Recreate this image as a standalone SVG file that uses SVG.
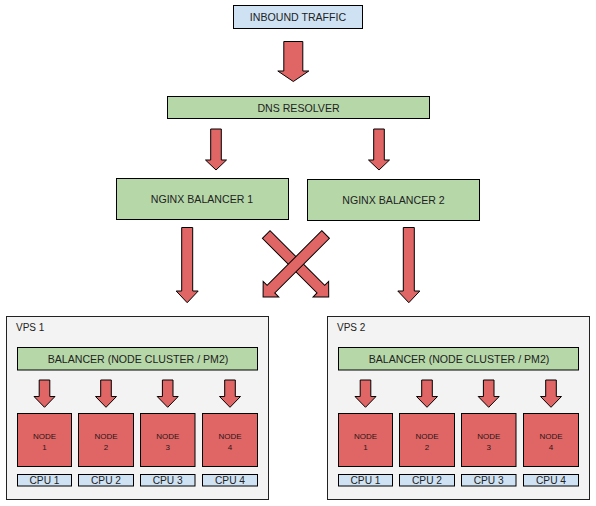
<svg xmlns="http://www.w3.org/2000/svg" width="596" height="506" viewBox="0 0 596 506">
<style>
  .box { stroke: #000; stroke-width: 1; }
  .blue { fill: #cfe2f3; }
  .green { fill: #b6d7a8; }
  .red { fill: #e06666; }
  .gray { fill: #f3f3f3; stroke: #222; stroke-width: 1; }
  .arrow { fill: #e06666; stroke: #000; stroke-width: 1; stroke-linejoin: miter; }
  text { font-family: "Liberation Sans", Arial, sans-serif; fill: #222; }
  .t { font-size: 10.6px; text-anchor: middle; }
  .lbl { font-size: 10px; }
  .n { font-size: 8px; text-anchor: middle; fill: #2a1515; }
  .cpu { font-size: 10.2px; text-anchor: middle; }
</style>
<rect width="596" height="506" fill="#ffffff"/>

<g id="inbound">
  <rect class="box blue" x="233.5" y="5.5" width="129" height="23"/>
  <text class="t" x="298" y="21">INBOUND TRAFFIC</text>
</g>
<g id="dns">
  <rect class="box green" x="167.5" y="96.5" width="262" height="22"/>
  <text class="t" x="298.5" y="111.5">DNS RESOLVER</text>
</g>
<g id="nginx1">
  <rect class="box green" x="116.5" y="178.5" width="172" height="41"/>
  <text class="t" x="202" y="202.5">NGINX BALANCER 1</text>
</g>
<g id="nginx2">
  <rect class="box green" x="307.5" y="179.5" width="172" height="41"/>
  <text class="t" x="393.5" y="203.5">NGINX BALANCER 2</text>
</g>

<g id="vps1">
  <rect class="gray" x="6.5" y="316.5" width="262" height="183"/>
  <text class="lbl" x="16" y="330.5">VPS 1</text>
  <g id="vps1-balancer">
    <rect class="box green" x="17.5" y="347.5" width="240" height="22.5"/>
    <text class="t" x="138" y="363">BALANCER (NODE CLUSTER / PM2)</text>
  </g>
  <g id="vps1-node1"><rect class="box red" x="17.5" y="413.5" width="54" height="53"/><text class="n" x="44.5" y="438.5">NODE</text><text class="n" x="44.5" y="449.5">1</text></g>
  <g id="vps1-node2"><rect class="box red" x="78.5" y="413.5" width="55" height="53"/><text class="n" x="106" y="438.5">NODE</text><text class="n" x="106" y="449.5">2</text></g>
  <g id="vps1-node3"><rect class="box red" x="140.5" y="413.5" width="54.5" height="53"/><text class="n" x="167.7" y="438.5">NODE</text><text class="n" x="167.7" y="449.5">3</text></g>
  <g id="vps1-node4"><rect class="box red" x="202.5" y="413.5" width="55" height="53"/><text class="n" x="230" y="438.5">NODE</text><text class="n" x="230" y="449.5">4</text></g>
  <g id="vps1-cpu1"><rect class="box blue" x="17.5" y="474.5" width="54" height="11.5"/><text class="cpu" x="44.5" y="484">CPU 1</text></g>
  <g id="vps1-cpu2"><rect class="box blue" x="78.5" y="474.5" width="55" height="11.5"/><text class="cpu" x="106" y="484">CPU 2</text></g>
  <g id="vps1-cpu3"><rect class="box blue" x="140.5" y="474.5" width="54.5" height="11.5"/><text class="cpu" x="167.7" y="484">CPU 3</text></g>
  <g id="vps1-cpu4"><rect class="box blue" x="202.5" y="474.5" width="55" height="11.5"/><text class="cpu" x="230" y="484">CPU 4</text></g>
</g>

<g id="vps2">
  <rect class="gray" x="327.5" y="316.5" width="262" height="183"/>
  <text class="lbl" x="337" y="330.5">VPS 2</text>
  <g id="vps2-balancer">
    <rect class="box green" x="338.5" y="347.5" width="240" height="22.5"/>
    <text class="t" x="459" y="363">BALANCER (NODE CLUSTER / PM2)</text>
  </g>
  <g id="vps2-node1"><rect class="box red" x="338.5" y="413.5" width="54" height="53"/><text class="n" x="365.5" y="438.5">NODE</text><text class="n" x="365.5" y="449.5">1</text></g>
  <g id="vps2-node2"><rect class="box red" x="399.5" y="413.5" width="55" height="53"/><text class="n" x="427" y="438.5">NODE</text><text class="n" x="427" y="449.5">2</text></g>
  <g id="vps2-node3"><rect class="box red" x="461.5" y="413.5" width="54.5" height="53"/><text class="n" x="488.7" y="438.5">NODE</text><text class="n" x="488.7" y="449.5">3</text></g>
  <g id="vps2-node4"><rect class="box red" x="523.5" y="413.5" width="55" height="53"/><text class="n" x="551" y="438.5">NODE</text><text class="n" x="551" y="449.5">4</text></g>
  <g id="vps2-cpu1"><rect class="box blue" x="338.5" y="474.5" width="54" height="11.5"/><text class="cpu" x="365.5" y="484">CPU 1</text></g>
  <g id="vps2-cpu2"><rect class="box blue" x="399.5" y="474.5" width="55" height="11.5"/><text class="cpu" x="427" y="484">CPU 2</text></g>
  <g id="vps2-cpu3"><rect class="box blue" x="461.5" y="474.5" width="54.5" height="11.5"/><text class="cpu" x="488.7" y="484">CPU 3</text></g>
  <g id="vps2-cpu4"><rect class="box blue" x="523.5" y="474.5" width="55" height="11.5"/><text class="cpu" x="551" y="484">CPU 4</text></g>
</g>

<g id="connectors">
  <!-- inbound -> dns -->
  <path class="arrow" d="M283.8,41.5 H302.8 V71 H308.8 L293.3,81.5 L277.8,71 H283.8 Z"/>
  <!-- dns -> nginx -->
  <path class="arrow" d="M210.7,129 H221.3 V160 H226.5 L216,170 L205.5,160 H210.7 Z"/>
  <path class="arrow" d="M373.7,129 H384.3 V160 H389.5 L379,170 L368.5,160 H373.7 Z"/>
  <!-- nginx -> vps straight -->
  <path class="arrow" d="M181.7,227.5 H192.7 V291 H198.2 L187.2,302.7 L176.2,291 H181.7 Z"/>
  <path class="arrow" d="M403.3,227.5 H414.3 V291 H419.8 L408.8,302.7 L397.8,291 H403.3 Z"/>
  <!-- crossing arrows -->
  <path class="arrow" transform="translate(266.2,234.5) rotate(-45)" d="M-5.4,0 H5.4 V77.3 H11 L0,88.4 L-11,77.3 H-5.4 Z"/>
  <path class="arrow" transform="translate(325.6,234.5) rotate(45)" d="M-5.4,0 H5.4 V77.3 H11 L0,88.4 L-11,77.3 H-5.4 Z"/>
  <!-- vps1 balancer -> nodes -->
  <path class="arrow" d="M39.2,380 H49.8 V396.5 H55 L44.5,407.3 L34,396.5 H39.2 Z"/>
  <path class="arrow" d="M100.7,380 H111.3 V396.5 H116.5 L106,407.3 L95.5,396.5 H100.7 Z"/>
  <path class="arrow" d="M162.4,380 H173 V396.5 H178.2 L167.7,407.3 L157.2,396.5 H162.4 Z"/>
  <path class="arrow" d="M224.7,380 H235.3 V396.5 H240.5 L230,407.3 L219.5,396.5 H224.7 Z"/>
  <!-- vps2 balancer -> nodes -->
  <path class="arrow" d="M360.2,380 H370.8 V396.5 H376 L365.5,407.3 L355,396.5 H360.2 Z"/>
  <path class="arrow" d="M421.7,380 H432.3 V396.5 H437.5 L427,407.3 L416.5,396.5 H421.7 Z"/>
  <path class="arrow" d="M483.4,380 H494 V396.5 H499.2 L488.7,407.3 L478.2,396.5 H483.4 Z"/>
  <path class="arrow" d="M545.7,380 H556.3 V396.5 H561.5 L551,407.3 L540.5,396.5 H545.7 Z"/>
</g>
</svg>
